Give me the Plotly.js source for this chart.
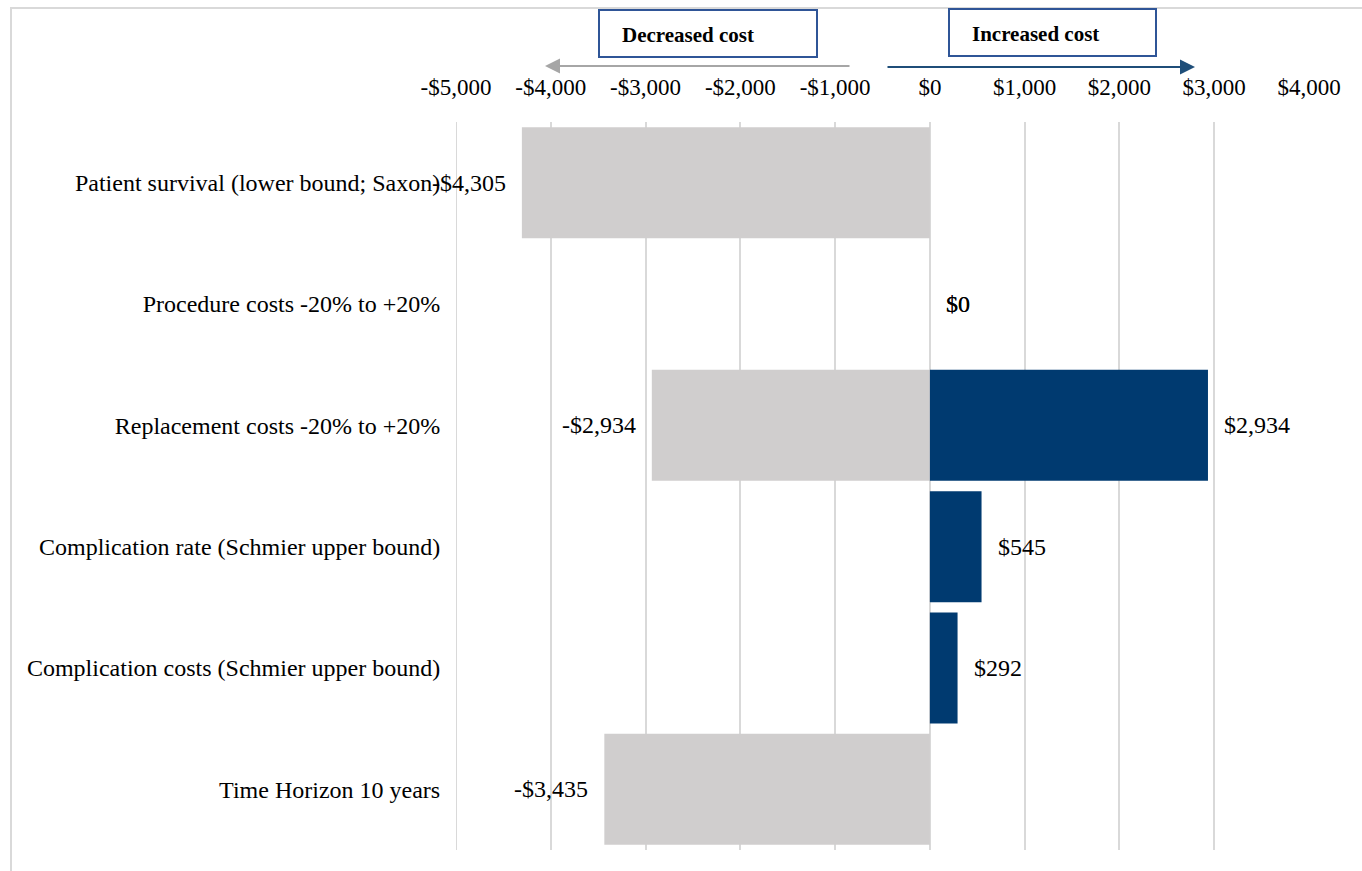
<!DOCTYPE html>
<html>
<head>
<meta charset="utf-8">
<script src="https://cdn.plot.ly/plotly-3.0.1.min.js"></script>
<style>html,body{margin:0;padding:0;background:#fff;}#chart{width:1362px;height:871px;}</style>
</head>
<body>
<div id="chart"></div>
<script>
// ---- data ----
var categories = [
  "Patient survival (lower bound; Saxon)",
  "Procedure costs -20% to +20%",
  "Replacement costs -20% to +20%",
  "Complication rate (Schmier upper bound)",
  "Complication costs (Schmier upper bound)",
  "Time Horizon 10 years"
];
var decreaseValues = [-4305, 0, -2934, null, null, -3435];
var increaseValues = [null, 0, 2934, 545, 292, null];
var tickValues = [-5000, -4000, -3000, -2000, -1000, 0, 1000, 2000, 3000, 4000];
var tickLabels = ["-$5,000", "-$4,000", "-$3,000", "-$2,000", "-$1,000", "$0", "$1,000", "$2,000", "$3,000", "$4,000"];

// ---- layout helpers ----
var W = 1362, H = 871;
var M = {l: 456, r: 53, t: 122, b: 21};
var PW = W - M.l - M.r, PH = H - M.t - M.b;
function px(x) { return (x - M.l) / PW; }
function py(y) { return (H - M.b - y) / PH; }

function fmt(v) {
  var s = "$" + Math.abs(v).toLocaleString("en-US");
  return v < 0 ? "-" + s : s;
}

var FONT = "Liberation Serif, Times New Roman, serif";
var GRAY = "#D0CECE", NAVY = "#003A70";

var traces = [
  {type: "bar", orientation: "h", y: categories, x: decreaseValues,
   marker: {color: GRAY, line: {width: 0}}, hoverinfo: "x+y", showlegend: false},
  {type: "bar", orientation: "h", y: categories, x: increaseValues,
   marker: {color: NAVY, line: {width: 0}}, hoverinfo: "x+y", showlegend: false}
];

var annotations = [];
[decreaseValues, increaseValues].forEach(function (series) {
  series.forEach(function (v, i) {
    if (v === null) return;
    var neg = v < 0;
    annotations.push({
      x: v, y: categories[i], xref: "x", yref: "y",
      text: fmt(v), showarrow: false,
      xanchor: neg ? "right" : "left", xshift: neg ? -14 : 14,
      font: {family: FONT, size: 24, color: "#000"}
    });
  });
});

// header boxes text
annotations.push({xref: "paper", yref: "paper", x: px(620), y: py(35), xanchor: "left", yanchor: "middle",
  text: "<b>Decreased cost</b>", showarrow: false, font: {family: FONT, size: 21, color: "#000"}});
annotations.push({xref: "paper", yref: "paper", x: px(970), y: py(34), xanchor: "left", yanchor: "middle",
  text: "<b>Increased cost</b>", showarrow: false, font: {family: FONT, size: 21, color: "#000"}});

// arrows
annotations.push({xref: "paper", yref: "paper", axref: "paper", ayref: "paper",
  x: px(545), y: py(66), ax: px(851), ay: py(66), text: "", showarrow: true,
  arrowhead: 2, arrowsize: 1.5, arrowwidth: 2, arrowcolor: "#A6A6A6"});
annotations.push({xref: "paper", yref: "paper", axref: "paper", ayref: "paper",
  x: px(1195), y: py(67), ax: px(886), ay: py(67), text: "", showarrow: true,
  arrowhead: 2, arrowsize: 1.5, arrowwidth: 2, arrowcolor: "#1F4E79"});

var shapes = [
  {type: "rect", xref: "paper", yref: "paper", x0: px(11), x1: px(1375), y0: py(885), y1: py(8),
   line: {color: "#D9D9D9", width: 2}, fillcolor: "rgba(0,0,0,0)", layer: "below"},
  {type: "line", xref: "x", yref: "paper", x0: tickValues[0], x1: tickValues[0], y0: 0, y1: 1,
   line: {color: "#D9D9D9", width: 2}, layer: "below"},
  {type: "rect", xref: "paper", yref: "paper", x0: px(599), x1: px(817), y0: py(57), y1: py(10),
   line: {color: "#2F5597", width: 2}, fillcolor: "#fff"},
  {type: "rect", xref: "paper", yref: "paper", x0: px(949), x1: px(1156), y0: py(56), y1: py(9),
   line: {color: "#2F5597", width: 2}, fillcolor: "#fff"}
];

var layout = {
  width: W, height: H,
  margin: M,
  paper_bgcolor: "#fff", plot_bgcolor: "#fff",
  barmode: "overlay", bargap: 0.085,
  font: {family: FONT, size: 23, color: "#000"},
  xaxis: {
    side: "top", range: [-5000, 4000], tickvals: tickValues, ticktext: tickLabels,
    showgrid: true, gridcolor: "#D9D9D9", gridwidth: 2, zeroline: false,
    ticks: "outside", ticklen: 17, tickcolor: "rgba(0,0,0,0)",
    tickfont: {family: FONT, size: 23, color: "#000"}, fixedrange: true
  },
  yaxis: {
    autorange: "reversed", showgrid: false, zeroline: false,
    ticks: "outside", ticklen: 10, tickcolor: "rgba(0,0,0,0)",
    tickfont: {family: FONT, size: 24, color: "#000"}, fixedrange: true
  },
  annotations: annotations,
  shapes: shapes
};

Plotly.newPlot("chart", traces, layout, {displayModeBar: false, staticPlot: true});
</script>
</body>
</html>
